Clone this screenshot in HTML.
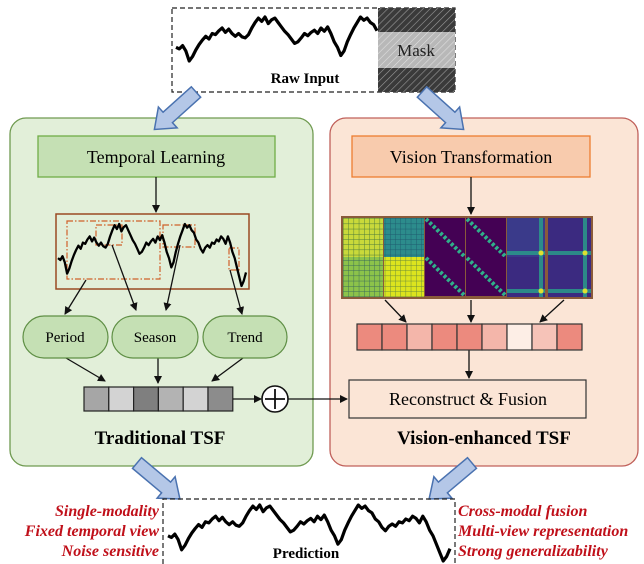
<!DOCTYPE html>
<html><head><meta charset="utf-8"><style>
html,body{margin:0;padding:0;background:#fff}
svg{display:block}
text{font-family:"Liberation Serif",serif}
</style></head><body>
<svg id="fig" width="644" height="564" viewBox="0 0 644 564" xmlns="http://www.w3.org/2000/svg">
<defs>
<pattern id="hatchDark" width="5" height="5" patternUnits="userSpaceOnUse" patternTransform="rotate(45)"><rect width="5" height="5" fill="#3a3a3a"/><line x1="0" y1="0" x2="0" y2="5" stroke="#9a9a9a" stroke-width="1.2"/></pattern>
<pattern id="hatchLight" width="5" height="5" patternUnits="userSpaceOnUse" patternTransform="rotate(45)"><rect width="5" height="5" fill="#b8b8b8"/><line x1="0" y1="0" x2="0" y2="5" stroke="#e0e0e0" stroke-width="1.2"/></pattern>
<pattern id="gridY" width="5.2" height="5.2" patternUnits="userSpaceOnUse"><rect width="5.2" height="5.2" fill="#c9d93a"/><path d="M0 0H5.2M0 0V5.2" stroke="#4a7a3a" stroke-width="0.9"/></pattern>
<pattern id="gridG" width="5.2" height="5.2" patternUnits="userSpaceOnUse"><rect width="5.2" height="5.2" fill="#8cc34a"/><path d="M0 0H5.2M0 0V5.2" stroke="#3a6a5a" stroke-width="0.9"/></pattern>
<pattern id="gridT" width="5.2" height="5.2" patternUnits="userSpaceOnUse"><rect width="5.2" height="5.2" fill="#2c8c8c"/><path d="M0 0H5.2M0 0V5.2" stroke="#1e5a6e" stroke-width="0.9"/></pattern>
<pattern id="gridY2" width="5.2" height="5.2" patternUnits="userSpaceOnUse"><rect width="5.2" height="5.2" fill="#dce41e"/><path d="M0 0H5.2M0 0V5.2" stroke="#6a8a3a" stroke-width="0.9"/></pattern>
<marker id="ah" markerWidth="8" markerHeight="8" refX="7" refY="4" orient="auto" markerUnits="userSpaceOnUse"><path d="M0 0L8 4L0 8z" fill="#111"/></marker>
</defs>

<g>
<rect x="172" y="8" width="283" height="84" fill="#fff" stroke="#222" stroke-dasharray="5,3" stroke-width="1.2"/>
<rect x="378" y="8" width="77" height="24" fill="url(#hatchDark)"/>
<rect x="378" y="32" width="77" height="36" fill="url(#hatchLight)"/>
<rect x="378" y="68" width="77" height="24" fill="url(#hatchDark)"/>
<text x="416" y="56" font-size="17" text-anchor="middle" fill="#222">Mask</text>
<text x="305" y="83" font-size="15" font-weight="bold" text-anchor="middle">Raw Input</text>
<polyline id="rawLine" fill="none" stroke="#000" stroke-width="3.2" stroke-linejoin="round"/>
</g>

<rect x="10" y="118" width="303" height="348" rx="16" fill="#e2efd9" stroke="#6f9a50" stroke-width="1.3"/>
<rect x="330" y="118" width="308" height="348" rx="16" fill="#fbe5d6" stroke="#c0605a" stroke-width="1.3"/>

<g fill="#b4c7e7" stroke="#4a72b0" stroke-width="1.5">
<path d="M0 -7 L38 -7 L38 -14 L56 0 L38 14 L38 7 L0 7z" transform="translate(196,92) rotate(138)"/>
<path d="M0 -7 L38 -7 L38 -14 L56 0 L38 14 L38 7 L0 7z" transform="translate(422,92) rotate(42)"/>
<path d="M0 -7 L38 -7 L38 -14 L56 0 L38 14 L38 7 L0 7z" transform="translate(137,463) rotate(40)"/>
<path d="M0 -7 L38 -7 L38 -14 L56 0 L38 14 L38 7 L0 7z" transform="translate(472,463) rotate(140)"/>
</g>

<rect x="38" y="136" width="237" height="41" fill="#c5e0b4" stroke="#70ad47" stroke-width="1.3"/>
<text x="156" y="163" font-size="18" text-anchor="middle">Temporal Learning</text>
<line x1="156" y1="177" x2="156" y2="212" stroke="#111" stroke-width="1.3" marker-end="url(#ah)"/>
<rect x="56" y="214" width="193" height="75" fill="none" stroke="#9a4a22" stroke-width="1.5"/>
<g fill="none" stroke="#d0602a" stroke-width="1.2" stroke-dasharray="6,2,1.5,2">
<rect x="67" y="221" width="93" height="58"/>
<rect x="96" y="225" width="26" height="20"/>
<rect x="163" y="225" width="32" height="22"/>
<rect x="229" y="248" width="10" height="22"/>
</g>
<polyline id="tlLine" fill="none" stroke="#000" stroke-width="2.3" stroke-linejoin="round"/>
<g stroke="#111" stroke-width="1.3" fill="none" marker-end="url(#ah)">
<line x1="86" y1="280" x2="65" y2="314"/>
<line x1="112" y1="245" x2="136" y2="310"/>
<line x1="180" y1="245" x2="166" y2="310"/>
<line x1="230" y1="270" x2="242" y2="314"/>
<line x1="66" y1="358" x2="105" y2="381"/>
<line x1="158" y1="358" x2="158" y2="383"/>
<line x1="243" y1="358" x2="212" y2="381"/>
</g>
<g fill="#c5e0b4" stroke="#5f8f45" stroke-width="1.2">
<rect x="23" y="316" width="85" height="42" rx="21"/>
<rect x="112" y="316" width="86" height="42" rx="21"/>
<rect x="203" y="316" width="84" height="42" rx="21"/>
</g>
<g font-size="15" text-anchor="middle">
<text x="65" y="342">Period</text>
<text x="155" y="342">Season</text>
<text x="245" y="342">Trend</text>
</g>
<g id="grayBar" stroke="#222" stroke-width="1.2"></g>
<line x1="233" y1="399" x2="261" y2="399" stroke="#111" stroke-width="1.3" marker-end="url(#ah)"/>
<circle cx="275" cy="399" r="13" fill="#fff" stroke="#111" stroke-width="1.6"/>
<path d="M265 399H285M275 389V409" stroke="#111" stroke-width="1.8"/>
<line x1="288" y1="399" x2="347" y2="399" stroke="#111" stroke-width="1.3" marker-end="url(#ah)"/>
<text x="160" y="444" font-size="19" font-weight="bold" text-anchor="middle">Traditional TSF</text>

<rect x="352" y="136" width="238" height="41" fill="#f8cbad" stroke="#ed7d31" stroke-width="1.3"/>
<text x="471" y="163" font-size="18" text-anchor="middle">Vision Transformation</text>
<line x1="471" y1="177" x2="471" y2="214" stroke="#111" stroke-width="1.3" marker-end="url(#ah)"/>
<g>
<rect x="341" y="216" width="252" height="83" fill="#8a5a3a"/>
<rect x="343" y="218" width="40" height="39" fill="url(#gridY)"/>
<rect x="343" y="257" width="40" height="40" fill="url(#gridG)"/>
<rect x="384" y="218" width="40" height="39" fill="url(#gridT)"/>
<rect x="384" y="257" width="40" height="40" fill="url(#gridY2)"/>
<g id="diagTiles"></g>
<g id="crossTiles"></g>
</g>
<g stroke="#111" stroke-width="1.3" marker-end="url(#ah)">
<line x1="385" y1="300" x2="406" y2="322"/>
<line x1="471" y1="300" x2="471" y2="322"/>
<line x1="564" y1="300" x2="540" y2="322"/>
<line x1="469" y1="350" x2="469" y2="378"/>
</g>
<g id="pinkBar" stroke="#333" stroke-width="1.2"></g>
<rect x="349" y="380" width="237" height="38" fill="#fbe5d6" stroke="#333" stroke-width="1.2"/>
<text x="468" y="405" font-size="18" text-anchor="middle">Reconstruct &amp; Fusion</text>
<text x="484" y="444" font-size="19" font-weight="bold" text-anchor="middle">Vision-enhanced TSF</text>

<g>
<path d="M163 564V499H455V564" fill="none" stroke="#222" stroke-dasharray="5,3" stroke-width="1.2"/>
<polyline id="predLine" fill="none" stroke="#000" stroke-width="3.2" stroke-linejoin="round"/>
<text x="306" y="558" font-size="15" font-weight="bold" text-anchor="middle">Prediction</text>
</g>
<g font-size="16" font-weight="bold" font-style="italic" fill="#c0101a">
<text x="159" y="516" text-anchor="end">Single-modality</text>
<text x="159" y="536" text-anchor="end">Fixed temporal view</text>
<text x="159" y="556" text-anchor="end">Noise sensitive</text>
<text x="458" y="516">Cross-modal fusion</text>
<text x="458" y="536">Multi-view representation</text>
<text x="458" y="556">Strong generalizability</text>
</g>
</svg>
<script>
const seriesShape=[0.55,0.58,0.52,0.62,0.8,0.72,0.6,0.5,0.42,0.35,0.4,0.3,0.32,0.25,0.2,0.28,0.22,0.3,0.35,0.3,0.36,0.38,0.32,0.2,0.1,0.02,0.08,0.0,0.12,0.05,0.02,0.1,0.18,0.26,0.32,0.4,0.48,0.45,0.38,0.3,0.34,0.28,0.24,0.3,0.2,0.26,0.18,0.3,0.45,0.55,0.7,0.62,0.45,0.32,0.2,0.1,0.0,0.06,0.02,0.1,0.14,0.25,0.3,0.4,0.46,0.38,0.34,0.38,0.3,0.32,0.25,0.28,0.2,0.24,0.32,0.2,0.3,0.45,0.55,0.7,0.85,1.0,0.92,0.78];
const rawShape=seriesShape.slice(0,62);
const grayCells=["#a6a6a6","#d3d3d3","#7f7f7f","#b3b3b3","#d3d3d3","#8c8c8c"];
const pinkCells=["#ec8a7e","#ec8a7e","#f4b6aa","#ec8a7e","#ec8a7e","#f4b6aa","#fdeee6","#f6c3b8","#ec8a7e"];
const NS="http://www.w3.org/2000/svg";
function drawLine(id,vals,x0,x1,y0,y1){
 const el=document.getElementById(id);
 const pts=vals.map((v,i)=>(x0+(x1-x0)*i/(vals.length-1)).toFixed(1)+","+(y0+(y1-y0)*v).toFixed(1));
 el.setAttribute("points",pts.join(" "));
}
drawLine("rawLine",rawShape,176,377,17,72);
drawLine("tlLine",seriesShape,58,246,224,286);
drawLine("predLine",seriesShape,168,450,505,561);
function drawCells(id,cols,x0,y0,w,h){
 const g=document.getElementById(id);
 cols.forEach((c,i)=>{const r=document.createElementNS(NS,"rect");
 r.setAttribute("x",x0+i*w);r.setAttribute("y",y0);r.setAttribute("width",w);r.setAttribute("height",h);r.setAttribute("fill",c);
 
 
 g.appendChild(r);});
}
drawCells("grayBar",grayCells,84,387,24.8,24);
drawCells("pinkBar",pinkCells,357,324,25,26);
const dg=document.getElementById("diagTiles");
[[425,218],[466,218],[425,257],[466,257]].forEach(p=>{
 const r=document.createElementNS(NS,"rect");r.setAttribute("x",p[0]);r.setAttribute("y",p[1]);r.setAttribute("width",40);r.setAttribute("height",39);r.setAttribute("fill","#440154");
 
 
 dg.appendChild(r);
 const l=document.createElementNS(NS,"line");l.setAttribute("x1",p[0]+1);l.setAttribute("y1",p[1]+1);l.setAttribute("x2",p[0]+39);l.setAttribute("y2",p[1]+38);
 l.setAttribute("stroke","#2fb08a");l.setAttribute("stroke-width","4");l.setAttribute("stroke-dasharray","3,2");dg.appendChild(l);
});
const cg=document.getElementById("crossTiles");
[[507,218,38,39],[548,218,43,39],[507,257,38,40],[548,257,43,40]].forEach((p,i)=>{
 const r=document.createElementNS(NS,"rect");r.setAttribute("x",p[0]);r.setAttribute("y",p[1]);r.setAttribute("width",p[2]);r.setAttribute("height",p[3]);r.setAttribute("fill",i==0?"#3a3a8a":"#3b2a80");
 
 
 cg.appendChild(r);
 const cx=(i%2==0)?p[0]+p[2]-4:p[0]+p[2]-6, cy=(i<2)?p[1]+p[3]-4:p[1]+p[3]-6;
 [[cx,p[1],cx,p[1]+p[3]],[p[0],cy,p[0]+p[2],cy]].forEach(c=>{const l=document.createElementNS(NS,"line");
 l.setAttribute("x1",c[0]);l.setAttribute("y1",c[1]);l.setAttribute("x2",c[2]);l.setAttribute("y2",c[3]);
 l.setAttribute("stroke","#2a9a8a");l.setAttribute("stroke-width","4");l.setAttribute("opacity","0.85");cg.appendChild(l);});
 const d=document.createElementNS(NS,"circle");d.setAttribute("cx",cx);d.setAttribute("cy",cy);d.setAttribute("r",2.5);d.setAttribute("fill","#e0e030");cg.appendChild(d);
});
</script>
</body></html>
